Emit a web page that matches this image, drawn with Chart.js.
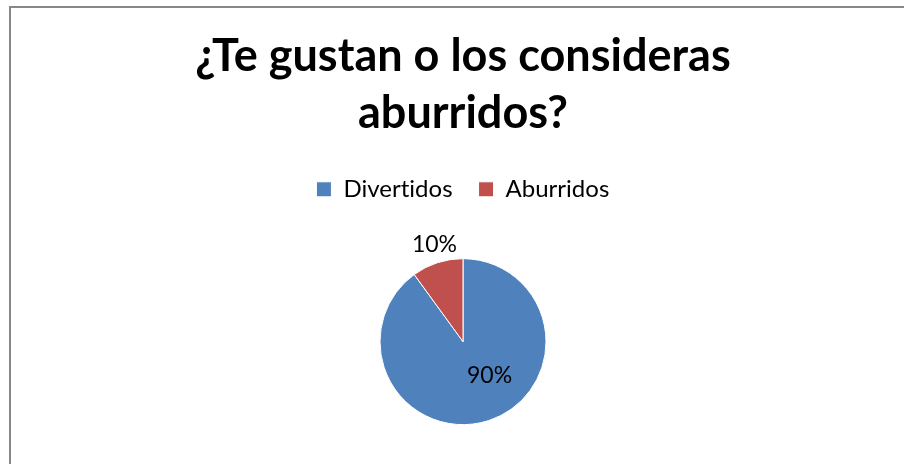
<!DOCTYPE html>
<html>
<head>
<meta charset="utf-8">
<script src="https://cdn.jsdelivr.net/npm/chart.js@4/dist/chart.umd.min.js"></script>
<style>
  html, body { margin: 0; padding: 0; background: #fff; overflow: hidden; }
  #wrap { position: relative; width: 904px; height: 464px; overflow: hidden; }
  #frame { position: absolute; left: 9px; top: 6px; width: 1000px; height: 1000px;
           border: 2px solid #888; box-sizing: border-box; }
  canvas { position: absolute; left: 0; top: 0; }
</style>
</head>
<body>
<div id="wrap">
  <div id="frame"></div>
  <canvas id="pie" width="904" height="472"></canvas>
</div>
<script>
const categories = ['Divertidos', 'Aburridos'];
const values = [90, 10];
const sliceColors = ['#4F81BD', '#C0504D'];

// keep "ti" etc. from turning into ligatures
const plainText = {
    id: 'plainText',
    beforeDraw(chart) {
        chart.ctx.textRendering = 'optimizeSpeed';
        chart.ctx.letterSpacing = '0.01px';
    }
};

// percent labels drawn at each slice's mid angle
const pctLabels = {
    id: 'pctLabels',
    afterDatasetsDraw(chart, args, opts) {
        const ctx = chart.ctx;
        const meta = chart.getDatasetMeta(0);
        const total = values.reduce((a, b) => a + b, 0);
        ctx.save();
        ctx.font = opts.font;
        ctx.fillStyle = '#000';
        ctx.textAlign = 'center';
        ctx.textBaseline = 'middle';
        meta.data.forEach((arc, i) => {
            const p = arc.getProps(['x', 'y', 'startAngle', 'endAngle', 'outerRadius'], true);
            const mid = (p.startAngle + p.endAngle) / 2;
            const r = p.outerRadius * opts.factors[i];
            const tx = p.x + Math.cos(mid) * r + opts.shift[i][0];
            const ty = p.y + Math.sin(mid) * r + opts.shift[i][1];
            ctx.fillText(Math.round(values[i] / total * 100) + '%', tx, ty);
        });
        ctx.restore();
    }
};

new Chart(document.getElementById('pie'), {
    type: 'pie',
    data: {
        labels: categories,
        datasets: [{
            data: values,
            backgroundColor: sliceColors,
            borderColor: '#fff',
            borderWidth: 1,
            radius: 83
        }]
    },
    options: {
        responsive: false,
        animation: false,
        layout: { padding: { left: 22, right: 0, top: 0, bottom: 0 } },
        plugins: {
            title: {
                display: true,
                text: ['¿Te gustan o los consideras', 'aburridos?'],
                color: '#000',
                font: { family: 'Lato', size: 45, weight: 'bold', lineHeight: 1.27 },
                padding: { top: 28, bottom: 9 }
            },
            legend: {
                position: 'top',
                labels: {
                    color: '#000',
                    font: { family: 'Lato', size: 24 },
                    boxWidth: 15,
                    boxHeight: 15,
                    padding: 26
                }
            },
            tooltip: { enabled: false },
            pctLabels: {
                font: '23px Lato',
                factors: [0.53, 1.23],
                shift: [[13, -8], [3, 0]]
            }
        }
    },
    plugins: [plainText, pctLabels]
});
</script>
</body>
</html>
